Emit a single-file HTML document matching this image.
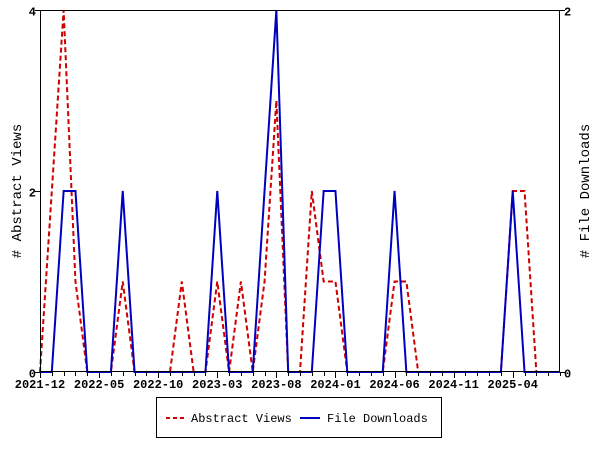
<!DOCTYPE html>
<html><head><meta charset="utf-8"><style>
body{margin:0;background:#fff;}
text{font-family:"Liberation Mono",monospace;font-size:12px;font-weight:bold;fill:#000;}
</style></head><body>
<svg id="chart" width="600" height="450">
<rect x="0" y="0" width="600" height="450" fill="#fff"/>
<g id="grid"></g>
<g id="series"></g>
<g id="axes"></g>
<text transform="translate(21,191) rotate(-90)" text-anchor="middle" style="font-size:14px;font-weight:normal">#  Abstract Views</text>
<text transform="translate(589,191) rotate(-90)" text-anchor="middle" style="font-size:14px;font-weight:normal">#  File Downloads</text>
<g>
<rect x="156.5" y="397.5" width="285" height="40" fill="#fff" stroke="#000"/>
<line x1="166" y1="418" x2="186" y2="418" stroke="#d00000" stroke-width="2" stroke-dasharray="4,3"/>
<text x="191" y="422" style="font-weight:normal">Abstract Views</text>
<line x1="300" y1="418" x2="320" y2="418" stroke="#0000c0" stroke-width="2"/>
<text x="327" y="422" style="font-weight:normal">File Downloads</text>
</g>
</svg>
<script>
const startYear = 2021, startMonth = 12;
const abstractViews = [0,2,4,1,0,0,0,1,0,0,0,0,1,0,0,1,0,1,0,1,3,0,0,2,1,1,0,0,0,0,1,1,0,0,0,0,0,0,0,0,2,2,0,0,0];
const fileDownloads = [0,0,1,1,0,0,0,1,0,0,0,0,0,0,0,1,0,0,0,1,2,0,0,0,1,1,0,0,0,0,1,0,0,0,0,0,0,0,0,0,1,0,0,0,0];
const leftTicks = [0,2,4];
const rightTicks = [0,1,2];
const leftMax = 4, rightMax = 2;
const X0 = 40, X1 = 560, Y0 = 372, Y1 = 10;
const n = abstractViews.length;
const xs = i => X0 + i * (X1 - X0) / (n - 1);
const yl = v => Y0 - v / leftMax * (Y0 - Y1);
const yr = v => Y0 - v / rightMax * (Y0 - Y1);
const NS = "http://www.w3.org/2000/svg";
const axes = document.getElementById('axes'), ser = document.getElementById('series');
function mk(tag, attrs, parent){const e=document.createElementNS(NS,tag);for(const k in attrs)e.setAttribute(k,attrs[k]);parent.appendChild(e);return e;}
const frame = mk('rect',{x:X0+0.5,y:Y1+0.5,width:X1-X0-1,height:Y0-Y1-1,fill:'none',stroke:'#000'},axes);


for(let i=0;i<n;i++){
  const x=Math.round(xs(i))+0.5;
  mk('line',{x1:x,y1:Y0,x2:x,y2:Y0+(i%5===0?6:4),stroke:'#000'},axes);
  if(i%5===0){
    let m=startMonth-1+i, y=startYear+Math.floor(m/12); m=m%12+1;
    const t=mk('text',{x:xs(i),y:Y0+16,'text-anchor':'middle'},axes);
    t.textContent=y+'-'+String(m).padStart(2,'0');
    
    
  }
}
leftTicks.forEach(v=>{const y=Math.round(yl(v))+0.5;mk('line',{x1:X0-5,y1:y,x2:X0,y2:y,stroke:'#000'},axes);
  const t=mk('text',{x:X0-4,y:y+5,'text-anchor':'end'},axes);t.textContent=v;
  
  });
rightTicks.forEach(v=>{if(v===1)return;const y=Math.round(yr(v))+0.5;mk('line',{x1:X1,y1:y,x2:X1+5,y2:y,stroke:'#000'},axes);
  const t=mk('text',{x:X1+4,y:y+5},axes);t.textContent=v;
  
  });
const pa=mk('polyline',{points:abstractViews.map((v,i)=>xs(i)+','+yl(v)).join(' '),fill:'none',stroke:'#d00000','stroke-width':2,'stroke-dasharray':'5,3'},ser);


const pd=mk('polyline',{points:fileDownloads.map((v,i)=>xs(i)+','+yr(v)).join(' '),fill:'none',stroke:'#0000c0','stroke-width':2},ser);


</script>
</body></html>
